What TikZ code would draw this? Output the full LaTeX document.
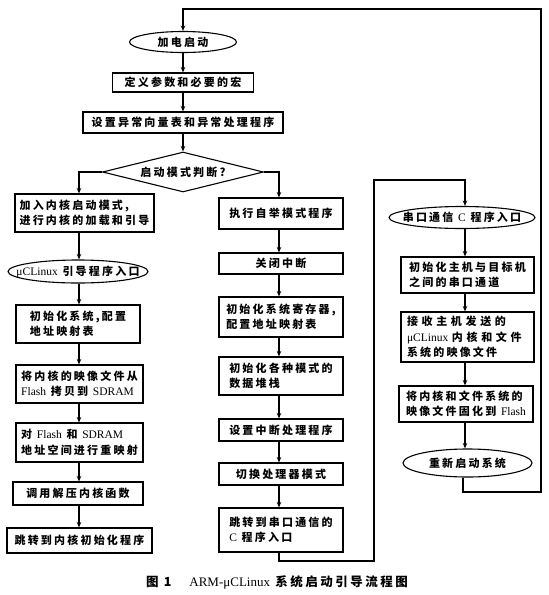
\documentclass[tikz,border=0pt]{standalone}
\usepackage{fontspec}
\setmainfont{Noto Sans CJK SC}[LetterSpace=20]
\newfontfamily\lat{Liberation Serif}
\newcommand\E[1]{{\lat\mdseries\fontsize{11.5}{15.5}\selectfont #1}}
\newcommand\ov[1]{\smash{\makebox[0pt]{\raisebox{-4pt}{#1}}}}
\usetikzlibrary{shapes.geometric,arrows.meta}
\tikzset{
  base/.style={draw, line width=1.1pt, font=\fontsize{11}{15.5}\selectfont\bfseries},
  box/.style={base, rectangle, inner sep=2pt, align=left},
  oval/.style={base, ellipse, inner sep=0pt},
  dia/.style={base, diamond, inner sep=0pt},
  arr/.style={line width=1.1pt, -{Stealth[length=5.5pt,width=4.5pt]}},
}
\begin{document}
\begin{tikzpicture}[x=1pt,y=-1pt]
\useasboundingbox (0,0) rectangle (549,595);
% top column
\node[oval, minimum width=107pt, minimum height=21pt] (e0) at (183,42) {\ov{加电启动}};
\node[box, minimum width=141pt, minimum height=19pt] (b1) at (183,82.5) {定义参数和必要的宏};
\node[box, minimum width=200pt, minimum height=21pt] (b2) at (183,122.5) {设置异常向量表和异常处理程序};
\node[dia, minimum width=161pt, minimum height=40pt] (d) at (183,172) {\ov{启动模式判断?}};
% left column
\node[box, minimum width=139pt, minimum height=38pt] (b3) at (84.5,213) {加入内核启动模式,\\进行内核的加载和引导};
\node[oval, minimum width=140pt, minimum height=23pt] (e1) at (78,271.5) {\ov{\E{μCLinux} 引导程序入口}};
\node[box, minimum width=124pt, minimum height=38pt] (b4) at (78,324) {初始化系统,配置\\地址映射表};
\node[box, minimum width=127pt, minimum height=38pt] (b5) at (79.5,384) {将内核的映像文件从\\\E{Flash} 拷贝到 \E{SDRAM}};
\node[box, minimum width=127pt, minimum height=39pt] (b6) at (79.5,442.5) {对 \E{Flash} 和 \E{SDRAM}\\地址空间进行重映射};
\node[box, minimum width=130pt, minimum height=23pt] (b7) at (78,493.5) {调用解压内核函数};
\node[box, minimum width=145pt, minimum height=25pt] (b8) at (79.5,540.5) {跳转到内核初始化程序};
% middle column
\node[box, minimum width=124pt, minimum height=31pt] (m1) at (281,213.5) {执行自举模式程序};
\node[box, minimum width=124pt, minimum height=21pt] (m2) at (281,263.5) {关闭中断};
\node[box, minimum width=124pt, minimum height=40pt] (m3) at (281,317) {初始化系统寄存器,\\配置地址映射表};
\node[box, minimum width=124pt, minimum height=38pt] (m4) at (281,376) {初始化各种模式的\\数据堆栈};
\node[box, minimum width=124pt, minimum height=22pt] (m5) at (281,430) {设置中断处理程序};
\node[box, minimum width=124pt, minimum height=22pt] (m6) at (281,474) {切换处理器模式};
\node[box, minimum width=124pt, minimum height=44pt] (m7) at (281,530) {跳转到串口通信的\\\E{C} 程序入口};
% right column
\node[oval, minimum width=146pt, minimum height=22pt] (r0) at (462,217.5) {\ov{串口通信 \E{C} 程序入口}};
\node[box, minimum width=133pt, minimum height=36pt] (r1) at (467.5,275) {初始化主机与目标机\\之间的串口通道};
\node[box, minimum width=133pt, minimum height=50pt, text width=121pt] (r2) at (467.5,337) {\makebox[\linewidth][s]{接 收 主 机 发 送 的}\\\makebox[\linewidth][s]{\E{μCLinux} 内 核 和 文 件}\\系统的映像文件};
\node[box, minimum width=134pt, minimum height=36pt] (r3) at (466,404) {将内核和文件系统的\\映像文件固化到 \E{Flash}};
\node[oval, minimum width=129pt, minimum height=28pt] (r4) at (467.5,463) {\ov{重新启动系统}};
% caption
\node[font=\fontsize{12.5}{14}\selectfont\bfseries] (cap) at (277,582) {图 1\quad\ {\lat\mdseries\fontsize{13}{14}\selectfont ARM-μCLinux} 系统启动引导流程图};
% helper coordinates
\coordinate (xL) at (79,0);
\coordinate (xM) at (279,0);
\coordinate (xR) at (465,0);
\coordinate (xE) at (463,0);
\coordinate (lp1) at (279,561);
\coordinate (lp2) at (374,561);
\coordinate (lp3) at (374,180);
\coordinate (lp4) at (465,180);
\coordinate (tp1) at (463,492);
\coordinate (tp2) at (541,492);
\coordinate (tp3) at (541,9);
\coordinate (tp4) at (183,9);
% connectors
\draw[arr] (e0.south) -- (b1.north);
\draw[arr] (b1.south) -- (b2.north);
\draw[arr] (b2.south) -- (d.north);
\draw[arr] (d.west) -| (b3.north -| xL);
\draw[arr] (d.east) -| (m1.north -| xM);
\draw[arr] (b3.south -| xL) -- (e1.north -| xL);
\draw[arr] (e1.south -| xL) -- (b4.north -| xL);
\draw[arr] (b4.south -| xL) -- (b5.north -| xL);
\draw[arr] (b5.south -| xL) -- (b6.north -| xL);
\draw[arr] (b6.south -| xL) -- (b7.north -| xL);
\draw[arr] (b7.south -| xL) -- (b8.north -| xL);
\draw[arr] (m1.south -| xM) -- (m2.north -| xM);
\draw[arr] (m2.south -| xM) -- (m3.north -| xM);
\draw[arr] (m3.south -| xM) -- (m4.north -| xM);
\draw[arr] (m4.south -| xM) -- (m5.north -| xM);
\draw[arr] (m5.south -| xM) -- (m6.north -| xM);
\draw[arr] (m6.south -| xM) -- (m7.north -| xM);
\draw[arr] (m7.south -| xM) -- (lp1) -- (lp2) -- (lp3) -- (lp4) -- (r0.north -| xR);
\draw[arr] (r0.south -| xR) -- (r1.north -| xR);
\draw[arr] (r1.south -| xR) -- (r2.north -| xR);
\draw[arr] (r2.south -| xR) -- (r3.north -| xR);
\draw[arr] (r3.south -| xR) -- (r4.north -| xR);
\draw[arr] (r4.south -| xE) -- (tp1) -- (tp2) -- (tp3) -- (tp4) -- (e0.north);
\end{tikzpicture}
\end{document}
